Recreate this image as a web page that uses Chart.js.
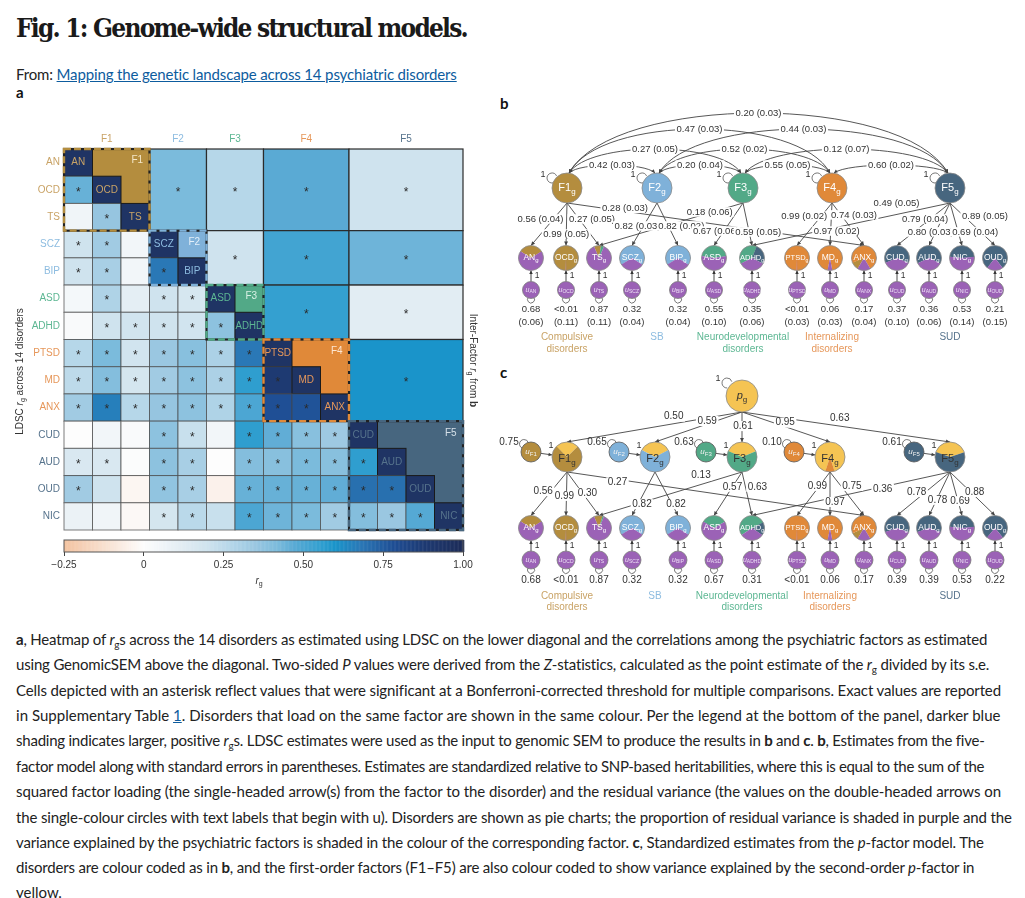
<!DOCTYPE html>
<html>
<head>
<meta charset="utf-8">
<title>Fig. 1: Genome-wide structural models</title>
<script src="https://cdn.jsdelivr.net/npm/chart.js@4.4.1/dist/chart.umd.min.js"></script>
<style>
  html, body { margin: 0; padding: 0; background: #fff; }
  body { position: relative; width: 1025px; height: 898px; overflow: hidden; font-family: Lato, "Open Sans", sans-serif; color: #222; }
  .abs { position: absolute; white-space: nowrap; }
  #title { left: 16px; top: 12px; font: bold 26px/32px "DejaVu Serif Condensed", "DejaVu Serif", serif; color: #1a1a1a; }
  #from { left: 16px; top: 64px; font: 15px/20px Lato, sans-serif; }
  #from a { color: #0d5c9e; text-decoration: underline; }
  .panel { font: bold 15px/16px Lato, sans-serif; color: #111; }
  .cap { left: 16px; font: 15px/20px Lato, sans-serif; color: #222; }
  .cap sub { font-size: 10px; vertical-align: -3px; line-height: 0; }
  .cap a { color: #0d5c9e; text-decoration: underline; }
  canvas { position: absolute; }
</style>
</head>
<body>
<div class="abs" id="title" data-w="451">Fig. 1: Genome-wide structural models.</div>
<div class="abs" id="from" data-w="441">From: <a>Mapping the genetic landscape across 14 psychiatric disorders</a></div>
<div class="abs panel" style="left:16px;top:84px">a</div>
<div class="abs panel" style="left:500px;top:95px">b</div>
<div class="abs panel" style="left:500px;top:364px">c</div>

<canvas id="heat" width="500" height="420" style="left:0;top:120px"></canvas>
<canvas id="cbar" width="500" height="65" style="left:0;top:530px"></canvas>
<canvas id="paths" width="530" height="525" style="left:495px;top:95px"></canvas>

<div class="abs cap" style="top:629px" data-w="972"><b>a</b>, Heatmap of <i>r</i><sub>g</sub>s across the 14 disorders as estimated using LDSC on the lower diagonal and the correlations among the psychiatric factors as estimated</div>
<div class="abs cap" style="top:654px" data-w="974">using GenomicSEM above the diagonal. Two-sided <i>P</i> values were derived from the <i>Z</i>-statistics, calculated as the point estimate of the <i>r</i><sub>g</sub> divided by its s.e.</div>
<div class="abs cap" style="top:680px" data-w="985">Cells depicted with an asterisk reflect values that were significant at a Bonferroni-corrected threshold for multiple comparisons. Exact values are reported</div>
<div class="abs cap" style="top:705px" data-w="984">in Supplementary Table <a>1</a>. Disorders that load on the same factor are shown in the same colour. Per the legend at the bottom of the panel, darker blue</div>
<div class="abs cap" style="top:730px" data-w="969">shading indicates larger, positive <i>r</i><sub>g</sub>s. LDSC estimates were used as the input to genomic SEM to produce the results in <b>b</b> and <b>c</b>. <b>b</b>, Estimates from the five-</div>
<div class="abs cap" style="top:756px" data-w="969">factor model along with standard errors in parentheses. Estimates are standardized relative to SNP-based heritabilities, where this is equal to the sum of the</div>
<div class="abs cap" style="top:781px" data-w="985">squared factor loading (the single-headed arrow(s) from the factor to the disorder) and the residual variance (the values on the double-headed arrows on</div>
<div class="abs cap" style="top:807px" data-w="996">the single-colour circles with text labels that begin with u). Disorders are shown as pie charts; the proportion of residual variance is shaded in purple and the</div>
<div class="abs cap" style="top:832px" data-w="968">variance explained by the psychiatric factors is shaded in the colour of the corresponding factor. <b>c</b>, Standardized estimates from the <i>p</i>-factor model. The</div>
<div class="abs cap" style="top:857px" data-w="958">disorders are colour coded as in <b>b</b>, and the first-order factors (F1–F5) are also colour coded to show variance explained by the second-order <i>p</i>-factor in</div>
<div class="abs cap" style="top:882px">yellow.</div>

<script>
// ---------- heatmap data (panel a) ----------
const disorders = ["AN", "OCD", "TS", "SCZ", "BIP", "ASD", "ADHD", "PTSD", "MD", "ANX", "CUD", "AUD", "OUD", "NIC"];
const factorNames = ["F1", "F2", "F3", "F4", "F5"];
const factorOf = [0, 0, 0, 1, 1, 2, 2, 3, 3, 3, 4, 4, 4, 4];

// LDSC rg, lower triangle: each row against the disorders listed before it
const rgOCD  = [0.45];
const rgTS   = [0.06, 0.36];
const rgSCZ  = [0.20, 0.33, 0.05];
const rgBIP  = [0.20, 0.31, 0.05, 0.68];
const rgASD  = [0.04, 0.29, 0.11, 0.20, 0.17];
const rgADHD = [0.02, 0.20, 0.19, 0.20, 0.19, 0.38];
const rgPTSD = [0.27, 0.42, 0.19, 0.35, 0.39, 0.30, 0.68];
const rgMD   = [0.25, 0.40, 0.18, 0.33, 0.38, 0.30, 0.56, 0.88];
const rgANX  = [0.33, 0.66, 0.27, 0.36, 0.38, 0.29, 0.50, 0.78, 0.77];
const rgCUD  = [0.00, 0.05, 0.02, 0.38, 0.22, 0.05, 0.56, 0.46, 0.39, 0.34];
const rgAUD  = [0.16, 0.16, 0.01, 0.38, 0.31, 0.00, 0.40, 0.39, 0.42, 0.39, 0.56];
const rgOUD  = [0.33, 0.20, -0.03, 0.37, 0.31, -0.05, 0.45, 0.45, 0.45, 0.46, 0.70, 0.70];
const rgNIC  = [0.08, 0.06, -0.02, 0.18, 0.26, 0.22, 0.50, 0.44, 0.42, 0.33, 0.40, 0.35, 0.48];

// Bonferroni-significant cells (1 = asterisk)
const sigOCD  = [1];
const sigTS   = [0, 1];
const sigSCZ  = [1, 1, 0];
const sigBIP  = [1, 1, 0, 1];
const sigASD  = [0, 1, 0, 1, 1];
const sigADHD = [0, 1, 1, 1, 1, 1];
const sigPTSD = [1, 1, 1, 1, 1, 1, 1];
const sigMD   = [1, 1, 1, 1, 1, 1, 1, 1];
const sigANX  = [1, 1, 1, 1, 1, 1, 1, 1, 1];
const sigCUD  = [0, 0, 0, 1, 1, 0, 1, 1, 1, 1];
const sigAUD  = [1, 1, 0, 1, 1, 0, 1, 1, 1, 1, 1];
const sigOUD  = [1, 0, 0, 1, 1, 0, 1, 1, 1, 1, 1, 1];
const sigNIC  = [0, 0, 0, 1, 1, 0, 1, 1, 1, 1, 1, 1, 1];

// inter-factor correlations (from b)
const factorPairA = [0, 0, 0, 0, 1, 1, 1, 2, 2, 3];
const factorPairB = [1, 2, 3, 4, 2, 3, 4, 3, 4, 4];
const factorR     = [0.42, 0.27, 0.47, 0.20, 0.20, 0.52, 0.44, 0.55, 0.12, 0.60];
const factorSE    = [0.03, 0.05, 0.03, 0.03, 0.04, 0.02, 0.03, 0.05, 0.07, 0.02];

const cbTicks = [-0.25, 0, 0.25, 0.5, 0.75, 1];

// ---------- path model data (panels b and c) ----------
const pathOrder = ["AN", "OCD", "TS", "SCZ", "BIP", "ASD", "ADHD", "PTSD", "MD", "ANX", "CUD", "AUD", "NIC", "OUD"];
const groupNames = ["Compulsive disorders", "SB", "Neurodevelopmental disorders", "Internalizing disorders", "SUD"];

const edgeFactor = [0, 0, 0, 0, 1, 1, 2, 2, 2, 3, 3, 3, 4, 4, 4, 4, 4];
const edgeTarget = ["AN", "OCD", "TS", "ANX", "SCZ", "BIP", "TS", "ASD", "ADHD", "PTSD", "MD", "ANX", "ADHD", "CUD", "AUD", "NIC", "OUD"];
const loadB   = [0.56, 0.99, 0.27, 0.28, 0.82, 0.82, 0.18, 0.67, 0.59, 0.99, 0.97, 0.74, 0.49, 0.79, 0.80, 0.69, 0.89];
const loadSEB = [0.04, 0.05, 0.05, 0.03, 0.03, 0.02, 0.06, 0.06, 0.05, 0.02, 0.02, 0.03, 0.05, 0.04, 0.03, 0.04, 0.05];
const residB   = [0.68, 0.004, 0.87, 0.32, 0.32, 0.55, 0.35, 0.004, 0.06, 0.17, 0.37, 0.36, 0.53, 0.21];
const residSEB = [0.06, 0.11, 0.11, 0.04, 0.04, 0.10, 0.06, 0.03, 0.03, 0.04, 0.10, 0.06, 0.14, 0.15];

const loadC  = [0.56, 0.99, 0.30, 0.27, 0.82, 0.82, 0.13, 0.57, 0.63, 0.99, 0.97, 0.75, 0.36, 0.78, 0.78, 0.69, 0.88];
const residC = [0.68, 0.004, 0.87, 0.32, 0.32, 0.67, 0.31, 0.004, 0.06, 0.17, 0.39, 0.39, 0.53, 0.22];
const pLoad        = [0.50, 0.59, 0.61, 0.95, 0.63];
const factorResidC = [0.75, 0.65, 0.63, 0.10, 0.61];

// ---------- layout of the path diagrams (page pixels) ----------
const diagX = [531, 566, 599, 632, 678, 714, 752, 797, 830, 864, 897, 929, 962, 995];
const factorXB = [567, 657, 743, 832, 950];
const factorXC = [567, 655, 742, 830, 950];
const pX = 742, uFGap = 36;
const rowB = { arcTop: [165, 149, 129, 113], factor: 188, disorder: 258, u: 290, val: 309, se: 322, group: 337 };
const rowC = { p: 396, factor: 457, uF: 452, disorder: 528, u: 560, val: 580, group: 596 };
// label placement along each edge: [t, dx, dy]
const labelPosB = [[0.376,-13,0],[0.73,0,0],[0.376,13,0],[0.195,0,-3],[0.54,-6,0],[0.54,13,0],[0.21,-3,0],[0.66,-8,0],[0.68,9,0],
                   [0.31,-17,0],[0.66,6,0],[0.28,13,0],[0.27,0,-11],[0.376,-5,0],[0.68,-5,0],[0.68,17,0],[0.31,21,0]];
const labelPosC = [[0.44,-8,0],[0.55,-2,0],[0.48,5,0],[0.17,0,3],[0.74,4,0],[0.74,4,0],[0.287,0,-9],[0.34,0,0],[0.34,12,0],
                   [0.32,-2,0],[0.69,5,0],[0.32,11,0],[0.34,0,2],[0.46,-9,0],[0.64,1,0],[0.67,2,0],[0.46,4,0]];
const labelPosP = [[0.39,0,-7],[0.4,0,-3],[0.47,1,0],[0.49,0,-4],[0.47,0,-8]];

// ---------- styles ----------
const FONT = "'Liberation Sans', Arial, sans-serif";
const C_F  = ["#b48d3e", "#7fb1d9", "#52a987", "#e08939", "#47667f"];   // factor fills
const C_T  = ["#c9a366", "#8dbce0", "#5db793", "#e6975a", "#56738c"];   // factor text
const C_FL = ["#f4e7c9", "#e3eff9", "#d9f0e5", "#fde6d1", "#d5e0e8"];   // labels inside blocks
const DIAG = "#1f3464", PURPLE = "#9b62b6", YELLOW = "#f5c453", INK = "#333";

const rgStops = [[-0.25,"#f3c3a1"],[0,"#fdfdfd"],[0.12,"#e2edf3"],[0.2,"#cfe3ee"],[0.27,"#b6d7e9"],[0.35,"#9ac7e1"],
                 [0.42,"#7bbbdc"],[0.47,"#5aaad4"],[0.55,"#34a0d0"],[0.60,"#1a94ca"],[0.68,"#2a78b6"],[0.78,"#1f4f95"],
                 [0.88,"#1e3a72"],[1,"#1d2c58"]];

function hexRgb(h) { return [1, 3, 5].map(i => parseInt(h.slice(i, i + 2), 16)); }
function rgColor(v) {
  if (v <= rgStops[0][0]) return rgStops[0][1];
  for (let i = 1; i < rgStops.length; i++) {
    if (v <= rgStops[i][0]) {
      const [v0, c0] = rgStops[i - 1], [v1, c1] = rgStops[i];
      const t = (v - v0) / (v1 - v0), a = hexRgb(c0), b = hexRgb(c1);
      return "rgb(" + a.map((x, k) => Math.round(x + (b[k] - x) * t)).join(",") + ")";
    }
  }
  return rgStops[rgStops.length - 1][1];
}

const fStart = factorNames.map((f, k) => factorOf.indexOf(k));
const fSize  = factorNames.map((f, k) => factorOf.filter(v => v === k).length);
const ldscRows = [[], rgOCD, rgTS, rgSCZ, rgBIP, rgASD, rgADHD, rgPTSD, rgMD, rgANX, rgCUD, rgAUD, rgOUD, rgNIC];
const sigRows  = [[], sigOCD, sigTS, sigSCZ, sigBIP, sigASD, sigADHD, sigPTSD, sigMD, sigANX, sigCUD, sigAUD, sigOUD, sigNIC];

const lowerCells = [];
disorders.forEach((d, i) => {
  for (let j = 0; j <= i; j++) {
    lowerCells.push({ x: j + 0.5, y: i + 0.5, v: i === j ? 1 : ldscRows[i][j], sig: i === j ? 0 : sigRows[i][j], diag: i === j, i: i });
  }
});
const blockCells = factorR.map((r, k) => {
  const a = factorPairA[k], b = factorPairB[k];
  return { x: fStart[b] + fSize[b] / 2, y: fStart[a] + fSize[a] / 2, v: r, a: a, b: b };
});

// ---------- helpers ----------
function drawRich(ctx, parts, x, y, size, color) {
  const fonts = parts.map(p => (p.it ? "italic " : "") + (p.b ? "bold " : "") + (p.sub ? Math.round(size * 0.7) : size) + "px " + FONT);
  let total = 0;
  const ws = parts.map((p, i) => { ctx.font = fonts[i]; const w = ctx.measureText(p.t).width; total += w; return w; });
  let cx = x - total / 2;
  ctx.fillStyle = color; ctx.textAlign = "left"; ctx.textBaseline = "middle";
  parts.forEach((p, i) => { ctx.font = fonts[i]; ctx.fillText(p.t, cx, y + (p.sub ? size * 0.3 : 0)); cx += ws[i]; });
}
function star(ctx, x, y) {
  ctx.font = "12px " + FONT; ctx.fillStyle = "#2a2a2a"; ctx.textAlign = "center"; ctx.textBaseline = "middle";
  ctx.fillText("*", x, y + 2.5);
}
function arrowHead(ctx, x1, y1, x2, y2, size) {
  const a = Math.atan2(y2 - y1, x2 - x1);
  ctx.beginPath();
  ctx.moveTo(x2, y2);
  ctx.lineTo(x2 - size * Math.cos(a - 0.45), y2 - size * Math.sin(a - 0.45));
  ctx.lineTo(x2 - size * Math.cos(a + 0.45), y2 - size * Math.sin(a + 0.45));
  ctx.closePath(); ctx.fill();
}
function arrow(ctx, x1, y1, x2, y2, head) {
  ctx.beginPath(); ctx.moveTo(x1, y1); ctx.lineTo(x2, y2); ctx.stroke();
  if (head) arrowHead(ctx, x1, y1, x2, y2, head);
}
function textBox(ctx, s, x, y, size) {
  ctx.font = size + "px " + FONT;
  const w = ctx.measureText(s).width;
  ctx.fillStyle = "#fff"; ctx.fillRect(x - w / 2 - 1.5, y - size / 2, w + 3, size);
  ctx.fillStyle = INK; ctx.textAlign = "center"; ctx.textBaseline = "middle"; ctx.fillText(s, x, y);
}
function plainText(ctx, s, x, y, size, color) {
  ctx.font = size + "px " + FONT; ctx.fillStyle = color; ctx.textAlign = "center"; ctx.textBaseline = "middle"; ctx.fillText(s, x, y);
}
function subLabel(ctx, main, sub, x, y, size, color, italic) {
  drawRich(ctx, [{ t: main, it: italic }, { t: sub, sub: true }], x, y, size, color);
}
function loop(ctx, cx, cy, r, gap) {
  ctx.beginPath(); ctx.arc(cx, cy, r, gap + 0.9, gap - 0.9 + 2 * Math.PI); ctx.stroke();
}
function wedge(ctx, cx, cy, r, a0, a1, color) {
  ctx.beginPath(); ctx.moveTo(cx, cy); ctx.arc(cx, cy, r, a0, a1 + 0.01); ctx.closePath();
  ctx.fillStyle = color; ctx.fill();
}
function pie(ctx, cx, cy, r, slices, rest, restColor) {
  const total = slices.reduce((s, p) => s + p.frac, 0);
  let a = -Math.PI / 2 - total * Math.PI;
  slices.forEach(p => { wedge(ctx, cx, cy, r, a, a + p.frac * 2 * Math.PI, p.color); a += p.frac * 2 * Math.PI; });
  wedge(ctx, cx, cy, r, a, a + rest * 2 * Math.PI, restColor);
  ctx.beginPath(); ctx.arc(cx, cy, r, 0, 2 * Math.PI);
  ctx.lineWidth = 0.8; ctx.strokeStyle = "#8a8a8a"; ctx.stroke();
}
function disorderSlices(name, load, resid) {
  const idx = edgeTarget.map((t, k) => (t === name ? k : -1)).filter(k => k >= 0);
  const W = idx.reduce((s, k) => s + load[k] * load[k], 0);
  return idx.map(k => ({ color: C_F[edgeFactor[k]], frac: load[k] * load[k] / W * (1 - resid) }));
}
function fmtVal(v) { return v < 0.01 ? "<0.01" : v.toFixed(2); }
function fmtTick(v) { return v === 0 ? "0" : (v < 0 ? "\u2212" : "") + Math.abs(v).toFixed(2); }

// ---------- panel a plugins ----------
const heatPlugin = {
  id: "heatCells",
  beforeDatasetsDraw(chart) {
    const ctx = chart.ctx, X = v => chart.scales.x.getPixelForValue(v), Y = v => chart.scales.y.getPixelForValue(v);
    ctx.save();
    // within-factor blocks in factor colour
    fStart.forEach((s, k) => {
      ctx.fillStyle = C_F[k];
      ctx.fillRect(X(s), Y(s), X(s + fSize[k]) - X(s), Y(s + fSize[k]) - Y(s));
    });
    // between-factor blocks above the diagonal
    chart.data.datasets[1].data.forEach(d => {
      const x0 = X(fStart[d.b]), x1 = X(fStart[d.b] + fSize[d.b]), y0 = Y(fStart[d.a]), y1 = Y(fStart[d.a] + fSize[d.a]);
      ctx.fillStyle = rgColor(d.v); ctx.fillRect(x0, y0, x1 - x0, y1 - y0);
      ctx.strokeStyle = "#2b2b2b"; ctx.lineWidth = 1.2; ctx.strokeRect(x0, y0, x1 - x0, y1 - y0);
      star(ctx, X(d.x), Y(d.y));
    });
    // LDSC cells and diagonal
    chart.data.datasets[0].data.forEach(d => {
      const x0 = X(d.x - 0.5), x1 = X(d.x + 0.5), y0 = Y(d.y - 0.5), y1 = Y(d.y + 0.5);
      ctx.fillStyle = d.diag ? DIAG : rgColor(d.v);
      ctx.fillRect(x0, y0, x1 - x0, y1 - y0);
      ctx.strokeStyle = d.diag ? "#1a1a1a" : "rgba(70,70,70,0.7)"; ctx.lineWidth = 1; ctx.strokeRect(x0, y0, x1 - x0, y1 - y0);
      if (d.sig) star(ctx, (x0 + x1) / 2, (y0 + y1) / 2);
      if (d.diag) {
        ctx.font = "10px " + FONT; ctx.fillStyle = C_T[factorOf[d.i]]; ctx.textAlign = "center"; ctx.textBaseline = "middle";
        ctx.fillText(disorders[d.i], (x0 + x1) / 2, (y0 + y1) / 2, x1 - x0 - 1);
      }
    });
    // dashed factor outlines and block labels
    fStart.forEach((s, k) => {
      const x0 = X(s), x1 = X(s + fSize[k]), y0 = Y(s), y1 = Y(s + fSize[k]);
      ctx.setLineDash([]); ctx.strokeStyle = "#222"; ctx.lineWidth = 2.2; ctx.strokeRect(x0, y0, x1 - x0, y1 - y0);
      ctx.setLineDash([7, 3]); ctx.strokeStyle = C_F[k]; ctx.lineWidth = 2.4; ctx.strokeRect(x0, y0, x1 - x0, y1 - y0);
      ctx.setLineDash([]);
      ctx.font = "10px " + FONT; ctx.fillStyle = C_FL[k]; ctx.textAlign = "center"; ctx.textBaseline = "middle";
      ctx.fillText(factorNames[k], X(s + fSize[k] - 0.5) + 2, Y(s + 0.5) - 2);
    });
    ctx.restore();
  },
  afterDraw(chart) {
    const ctx = chart.ctx, a = chart.chartArea;
    ctx.save();
    ctx.translate(20, (a.top + a.bottom) / 2 + 32); ctx.rotate(-Math.PI / 2);
    drawRich(ctx, [{ t: "LDSC " }, { t: "r", it: true }, { t: "g", sub: true }, { t: " across 14 disorders" }], 0, 0, 10, INK);
    ctx.restore();
    ctx.save();
    ctx.translate(a.right + 10, (a.top + a.bottom) / 2 + 21); ctx.rotate(Math.PI / 2);
    drawRich(ctx, [{ t: "Inter-Factor " }, { t: "r", it: true }, { t: "g", sub: true }, { t: " from " }, { t: "b", b: true }], 0, 0, 10, INK);
    ctx.restore();
  }
};

const cbarPlugin = {
  id: "cbar",
  beforeDatasetsDraw(chart) {
    const ctx = chart.ctx, xs = chart.scales.x, a = chart.chartArea;
    ctx.save();
    for (let v = -0.25; v < 1; v += 0.0025) {
      const x0 = xs.getPixelForValue(v), x1 = xs.getPixelForValue(v + 0.0025);
      ctx.fillStyle = rgColor(v + 0.00125); ctx.fillRect(x0, a.top, x1 - x0 + 0.5, a.bottom - a.top);
    }
    ctx.strokeStyle = "#555"; ctx.lineWidth = 1; ctx.strokeRect(a.left, a.top, a.right - a.left, a.bottom - a.top);
    ctx.restore();
  },
  afterDraw(chart) {
    const ctx = chart.ctx;
    ctx.save();
    drawRich(ctx, [{ t: "r", it: true }, { t: "g", sub: true }], chart.chartArea.left + 195, 51, 10, INK);
    ctx.restore();
  }
};

// ---------- panels b and c ----------
function drawB(ctx, X, Y) {
  const rF = 15, rD = 12.5, rU = 8.5;
  ctx.lineWidth = 0.9; ctx.strokeStyle = "#444"; ctx.fillStyle = "#444";
  const yTop = Y(rowB.factor) - rF;
  // correlations between factors
  const arcs = factorPairA.map((a, k) => {
    const b = factorPairB[k], x1 = X(factorXB[a]) + 2, x2 = X(factorXB[b]) - 2;
    const apex = Y(rowB.arcTop[b - a - 1]), c = (apex - 0.25 * yTop) / 0.75, dx = (x2 - x1) * 0.12;
    ctx.beginPath(); ctx.moveTo(x1, yTop); ctx.bezierCurveTo(x1 + dx, c, x2 - dx, c, x2, yTop); ctx.stroke();
    ctx.fillStyle = "#444";
    arrowHead(ctx, x1 + dx, c, x1, yTop, 4); arrowHead(ctx, x2 - dx, c, x2, yTop, 4);
    return { x: (x1 + x2) / 2, y: apex, s: factorR[k].toFixed(2) + " (" + factorSE[k].toFixed(2) + ")" };
  });
  // loadings
  const labels = edgeFactor.map((f, k) => {
    const d = pathOrder.indexOf(edgeTarget[k]);
    const sx = X(factorXB[f]), sy = Y(rowB.factor) + rF, ex = X(diagX[d]), ey = Y(rowB.disorder) - rD;
    ctx.fillStyle = "#444"; arrow(ctx, sx, sy, ex, ey, 4.5);
    const [t, ox, oy] = labelPosB[k];
    return { x: sx + t * (ex - sx) + ox, y: sy + t * (ey - sy) + oy, s: loadB[k].toFixed(2) + " (" + loadSEB[k].toFixed(2) + ")" };
  });
  arcs.concat(labels).forEach(l => textBox(ctx, l.s, l.x, l.y, 9.5));
  // factor nodes
  factorXB.forEach((fx, k) => {
    const x = X(fx), y = Y(rowB.factor);
    ctx.strokeStyle = "#555"; ctx.lineWidth = 0.8; loop(ctx, x - 15, y - 10, 5, Math.PI * 0.15);
    plainText(ctx, "1", x - 24, y - 13, 9, INK);
    ctx.beginPath(); ctx.arc(x, y, rF, 0, 2 * Math.PI); ctx.fillStyle = C_F[k]; ctx.fill();
    ctx.strokeStyle = "#8a8a8a"; ctx.stroke();
    subLabel(ctx, factorNames[k], "g", x, y, 11, "#fff", false);
  });
  // disorders, residuals
  pathOrder.forEach((name, d) => {
    const x = X(diagX[d]), y = Y(rowB.disorder), uy = Y(rowB.u);
    ctx.strokeStyle = "#333"; ctx.fillStyle = "#333"; ctx.lineWidth = 0.9;
    arrow(ctx, x, uy - rU, x, y + rD, 4);
    plainText(ctx, "1", x + 6, (uy - rU + y + rD) / 2, 8.5, INK);
    pie(ctx, x, y, rD, disorderSlices(name, loadB, residB[d]), residB[d], PURPLE);
    subLabel(ctx, name, "g", x, y, name.length > 3 ? 7.5 : 8.5, "#fff", false);
    ctx.strokeStyle = "#555"; ctx.lineWidth = 0.8; loop(ctx, x, uy + rU + 1, 3.5, -Math.PI / 2);
    ctx.beginPath(); ctx.arc(x, uy, rU, 0, 2 * Math.PI); ctx.fillStyle = PURPLE; ctx.fill(); ctx.strokeStyle = "#7b7b7b"; ctx.stroke();
    subLabel(ctx, "u", name, x, uy, 7, "#ecdff5", true);
    plainText(ctx, fmtVal(residB[d]), x, Y(rowB.val), 9.5, INK);
    plainText(ctx, "(" + residSEB[d].toFixed(2) + ")", x, Y(rowB.se), 9.5, INK);
  });
  groupNames.forEach((g, k) => {
    g.split(" ").forEach((w, i) => plainText(ctx, w, X(factorXB[k]), Y(rowB.group) + i * 12, 10, C_T[k]));
  });
}

function drawC(ctx, X, Y) {
  const rP = 16, rF = 15, rD = 12.5, rU = 9, rUF = 10;
  ctx.lineWidth = 0.9; ctx.strokeStyle = "#444"; ctx.fillStyle = "#444";
  const px = X(pX), py = Y(rowC.p);
  const labels = [];
  pLoad.forEach((l, k) => {
    const sx = px, sy = py + rP, ex = X(factorXC[k]), ey = Y(rowC.factor) - rF;
    ctx.fillStyle = "#444"; arrow(ctx, sx, sy, ex, ey, 4.5);
    const [t, ox, oy] = labelPosP[k];
    labels.push({ x: sx + t * (ex - sx) + ox, y: sy + t * (ey - sy) + oy, s: l.toFixed(2) });
  });
  edgeFactor.forEach((f, k) => {
    const d = pathOrder.indexOf(edgeTarget[k]);
    const sx = X(factorXC[f]), sy = Y(rowC.factor) + rF, ex = X(diagX[d]), ey = Y(rowC.disorder) - rD;
    ctx.fillStyle = "#444"; arrow(ctx, sx, sy, ex, ey, 4.5);
    const [t, ox, oy] = labelPosC[k];
    labels.push({ x: sx + t * (ex - sx) + ox, y: sy + t * (ey - sy) + oy, s: loadC[k].toFixed(2) });
  });
  // residual factors
  factorXC.forEach((fx, k) => {
    const x = X(fx), y = Y(rowC.factor), ux = X(fx - uFGap), uy = Y(rowC.uF);
    const ang = Math.atan2(y - uy, x - ux);
    ctx.fillStyle = "#444"; ctx.strokeStyle = "#444";
    arrow(ctx, ux + rUF * Math.cos(ang), uy + rUF * Math.sin(ang), x - rF * Math.cos(ang), y - rF * Math.sin(ang), 4);
    plainText(ctx, "1", (ux + x) / 2 + 2, uy - 6, 9, INK);
  });
  labels.forEach(l => textBox(ctx, l.s, l.x, l.y, 10));
  // p factor
  ctx.strokeStyle = "#555"; ctx.lineWidth = 0.8; loop(ctx, px - 15, py - 13, 5, Math.PI * 0.2);
  plainText(ctx, "1", px - 24, py - 17, 9, INK);
  ctx.beginPath(); ctx.arc(px, py, rP, 0, 2 * Math.PI); ctx.fillStyle = YELLOW; ctx.fill(); ctx.strokeStyle = "#8a8a8a"; ctx.stroke();
  subLabel(ctx, "p", "g", px, py, 11, "#333", true);
  // first-order factors
  factorXC.forEach((fx, k) => {
    const x = X(fx), y = Y(rowC.factor), ux = X(fx - uFGap), uy = Y(rowC.uF);
    pie(ctx, x, y, rF, [{ color: YELLOW, frac: pLoad[k] * pLoad[k] }], 1 - pLoad[k] * pLoad[k], C_F[k]);
    subLabel(ctx, factorNames[k], "g", x, y + 2, 11, "#333", false);
    ctx.strokeStyle = "#555"; ctx.lineWidth = 0.8; loop(ctx, ux - 7, uy - 8, 4.5, Math.PI * 0.2);
    plainText(ctx, factorResidC[k].toFixed(2), ux - 22, uy - 10, 10, INK);
    ctx.beginPath(); ctx.arc(ux, uy, rUF, 0, 2 * Math.PI); ctx.fillStyle = C_F[k]; ctx.fill(); ctx.strokeStyle = "#555"; ctx.stroke();
    subLabel(ctx, "u", factorNames[k], ux, uy, 8, "#f2f2f2", true);
  });
  // disorders
  pathOrder.forEach((name, d) => {
    const x = X(diagX[d]), y = Y(rowC.disorder), uy = Y(rowC.u);
    ctx.strokeStyle = "#333"; ctx.fillStyle = "#333"; ctx.lineWidth = 0.9;
    arrow(ctx, x, uy - rU, x, y + rD, 4);
    plainText(ctx, "1", x + 6, (uy - rU + y + rD) / 2, 8.5, INK);
    pie(ctx, x, y, rD, disorderSlices(name, loadC, residC[d]), residC[d], PURPLE);
    subLabel(ctx, name, "g", x, y, name.length > 3 ? 7.5 : 8.5, "#fff", false);
    ctx.strokeStyle = "#555"; ctx.lineWidth = 0.8; loop(ctx, x, uy + rU + 1, 3.5, -Math.PI / 2);
    ctx.beginPath(); ctx.arc(x, uy, rU, 0, 2 * Math.PI); ctx.fillStyle = PURPLE; ctx.fill(); ctx.strokeStyle = "#7b7b7b"; ctx.stroke();
    subLabel(ctx, "u", name, x, uy, 7, "#ecdff5", true);
    plainText(ctx, fmtVal(residC[d]), x, Y(rowC.val), 10, INK);
  });
  groupNames.forEach((g, k) => {
    g.split(" ").forEach((w, i) => plainText(ctx, w, X(factorXC[k]), Y(rowC.group) + i * 11, 10, C_T[k]));
  });
}

const pathPlugin = {
  id: "paths",
  afterDatasetsDraw(chart) {
    const ctx = chart.ctx, X = v => chart.scales.x.getPixelForValue(v), Y = v => chart.scales.y.getPixelForValue(v);
    ctx.save(); drawB(ctx, X, Y); drawC(ctx, X, Y); ctx.restore();
  }
};

// ---------- charts ----------
const tickFont = { family: "'Liberation Sans', Arial, sans-serif", size: 10 };

new Chart(document.getElementById("heat"), {
  type: "scatter",
  data: { datasets: [
    { label: "LDSC rg", data: lowerCells, pointRadius: 0 },
    { label: "Inter-factor rg", data: blockCells, pointRadius: 0 }
  ] },
  options: {
    responsive: false, animation: false, events: [],
    layout: { padding: { left: 0, right: 37, top: 0, bottom: 9 } },
    plugins: { legend: { display: false }, tooltip: { enabled: false } },
    scales: {
      x: {
        type: "linear", position: "top", min: 0, max: 14,
        afterBuildTicks: s => { s.ticks = fStart.map((st, k) => ({ value: st + fSize[k] / 2 })); },
        afterFit: s => { s.height = 29; },
        ticks: { autoSkip: false, maxRotation: 0, padding: 4, font: tickFont, color: c => C_T[c.index], callback: (v, i) => factorNames[i] },
        grid: { display: false, drawTicks: false }, border: { display: false }
      },
      y: {
        type: "linear", min: 0, max: 14, reverse: true,
        afterBuildTicks: s => { s.ticks = disorders.map((d, i) => ({ value: i + 0.5 })); },
        afterFit: s => { s.width = 64; },
        ticks: { autoSkip: false, padding: 4, font: tickFont, color: c => C_T[factorOf[c.index]], callback: (v, i) => disorders[i] },
        grid: { display: false, drawTicks: false }, border: { display: false }
      }
    }
  },
  plugins: [heatPlugin]
});

new Chart(document.getElementById("cbar"), {
  type: "scatter",
  data: { datasets: [{ data: [], pointRadius: 0 }] },
  options: {
    responsive: false, animation: false, events: [],
    layout: { padding: { left: 64, right: 37, top: 10, bottom: 0 } },
    plugins: { legend: { display: false }, tooltip: { enabled: false } },
    scales: {
      x: {
        type: "linear", position: "bottom", min: -0.25, max: 1,
        afterBuildTicks: s => { s.ticks = cbTicks.map(v => ({ value: v })); },
        afterFit: s => { s.height = 43; },
        ticks: { autoSkip: false, maxRotation: 0, padding: 3, font: tickFont, color: INK, callback: v => fmtTick(v) },
        grid: { drawOnChartArea: false, tickLength: 4, color: "#444" }, border: { display: false }
      },
      y: { display: false, min: 0, max: 1 }
    }
  },
  plugins: [cbarPlugin]
});

new Chart(document.getElementById("paths"), {
  type: "scatter",
  data: { datasets: [{ data: diagX.map(x => ({ x: x, y: rowB.disorder })), pointRadius: 0 }] },
  options: {
    responsive: false, animation: false, events: [],
    layout: { padding: 0 },
    plugins: { legend: { display: false }, tooltip: { enabled: false } },
    scales: {
      x: { display: false, min: 495, max: 1025 },
      y: { display: false, min: 95, max: 620, reverse: true }
    }
  },
  plugins: [pathPlugin]
});

// stretch text lines to the widths of the original page
document.fonts.ready.then(() => {
  document.querySelectorAll("[data-w]").forEach(el => {
    const target = +el.dataset.w, w = el.getBoundingClientRect().width;
    el.style.letterSpacing = ((target - w) / el.textContent.length) + "px";
  });
});
</script>
</body>
</html>
